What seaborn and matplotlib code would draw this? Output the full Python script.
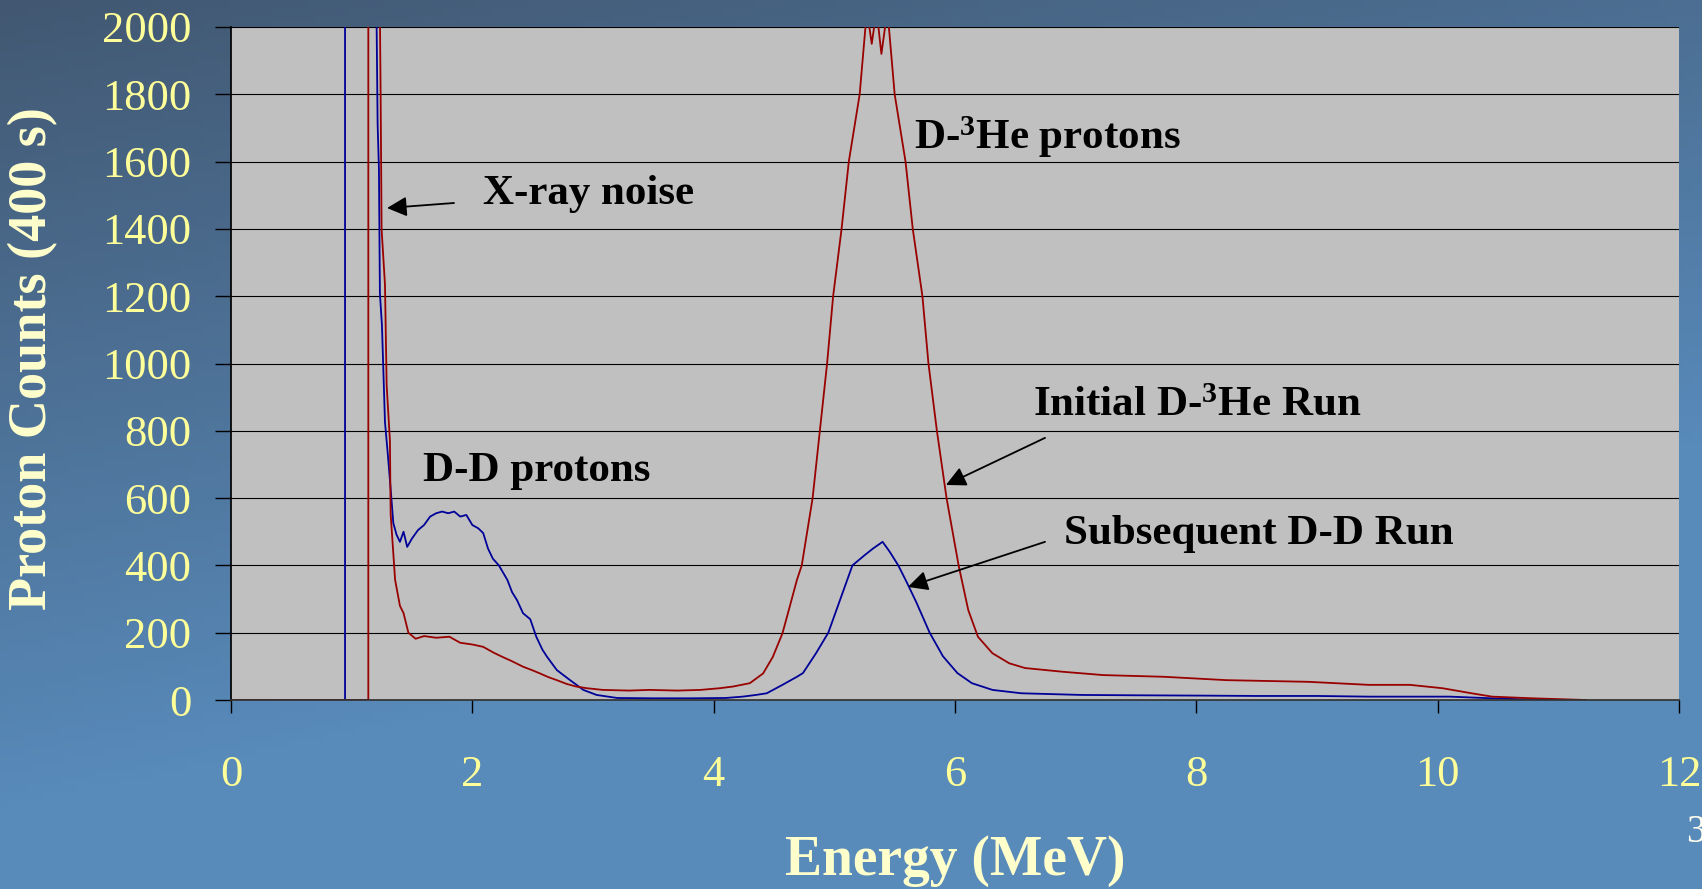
import numpy as np
import matplotlib
matplotlib.use("Agg")
import matplotlib.pyplot as plt
import seaborn as sns

# =========================
# DATA
# =========================
blue_energy = [0.00, 0.945, 0.945, 1.200, 1.207, 1.215, 1.226, 1.234, 1.251, 1.276,
               1.298, 1.326, 1.345, 1.372, 1.40, 1.43, 1.46, 1.50, 1.55, 1.60,
               1.65, 1.70, 1.75, 1.80, 1.85, 1.90, 1.95, 2.00, 2.05, 2.09,
               2.13, 2.17, 2.22, 2.29, 2.33, 2.37, 2.42, 2.48, 2.53, 2.58,
               2.62, 2.70, 2.81, 2.92, 3.03, 3.20, 3.50, 3.80, 4.10, 4.24,
               4.35, 4.44, 4.57, 4.69, 4.74, 4.85, 4.95, 5.05, 5.15, 5.25,
               5.32, 5.40, 5.46, 5.53, 5.60, 5.68, 5.79, 5.90, 6.02, 6.14,
               6.31, 6.55, 7.05, 7.50, 8.07, 8.50, 9.00, 9.43, 10.10, 10.45,
               10.70, 11.00]
blue_counts = [0, 0, 3000, 3000, 2000, 1713, 1577, 1208, 1113, 826,
               737, 614, 526, 491, 470, 500, 455, 480, 505, 520,
               545, 555, 560, 555, 560, 545, 550, 520, 510, 496,
               450, 420, 400, 357, 320, 297, 258, 240, 188, 150,
               128, 89, 59, 30, 15, 6, 5, 5, 6, 10,
               15, 20, 45, 69, 80, 140, 200, 300, 400, 430,
               450, 470, 440, 400, 350, 290, 200, 130, 80, 50,
               30, 20, 15, 14, 13, 12, 12, 10, 10, 5,
               2, 0]

red_energy = [0.00, 1.138, 1.138, 1.233, 1.235, 1.240, 1.248, 1.276, 1.290, 1.317,
              1.323, 1.36, 1.40, 1.43, 1.47, 1.53, 1.60, 1.70, 1.81, 1.90,
              2.00, 2.09, 2.18, 2.25, 2.33, 2.42, 2.50, 2.56, 2.63, 2.70,
              2.78, 2.86, 2.95, 3.08, 3.30, 3.47, 3.70, 3.89, 4.05, 4.16,
              4.30, 4.41, 4.49, 4.57, 4.63, 4.69, 4.73, 4.82, 4.88, 4.94,
              4.99, 5.06, 5.12, 5.21, 5.27, 5.31, 5.35, 5.39, 5.44, 5.50,
              5.59, 5.65, 5.73, 5.78, 5.85, 5.93, 6.03, 6.11, 6.19, 6.31,
              6.45, 6.58, 6.89, 7.23, 7.73, 8.25, 8.93, 9.43, 9.77, 10.04,
              10.28, 10.45, 10.79, 11.23]
red_counts = [0, 0, 3000, 3000, 2000, 1800, 1399, 1235, 935, 771,
              553, 357, 280, 258, 200, 182, 190, 185, 188, 170,
              165, 158, 140, 128, 115, 99, 88, 79, 68, 59,
              48, 40, 35, 30, 28, 30, 28, 30, 35, 40,
              50, 79, 128, 198, 277, 357, 400, 600, 800, 1000,
              1200, 1400, 1600, 1800, 2050, 1950, 2050, 1920, 2050, 1800,
              1600, 1400, 1200, 1000, 800, 600, 400, 267, 188, 139,
              109, 95, 84, 74, 69, 59, 54, 45, 45, 35,
              20, 10, 5, 0]

x_ticks = [0, 2, 4, 6, 8, 10, 12]
y_ticks = list(range(0, 2001, 200))

# =========================
# STYLE
# =========================
sns.set_theme(style="white")
plt.rcParams["font.family"] = ["Liberation Serif", "DejaVu Serif"]
plt.rcParams["mathtext.fontset"] = "custom"
plt.rcParams["mathtext.rm"] = "Liberation Serif:bold"
plt.rcParams["mathtext.it"] = "Liberation Serif:bold"
plt.rcParams["mathtext.bf"] = "Liberation Serif:bold"

tick_color = "#ffff99"
label_color = "#ffffcc"
red = "#990000"
blue = "#000099"

fig = plt.figure(figsize=(17.02, 8.89), dpi=100)

# slide background gradient
bg = fig.add_axes([0, 0, 1, 1], zorder=0)
gx, gy = np.meshgrid(np.linspace(0, 1, 200), np.linspace(0, 1, 120))
t = np.clip(0.45 * gx + 1.1 * gy, 0, 1)
dark = np.array([66, 88, 114]) / 255
light = np.array([88, 138, 186]) / 255
grad = dark[None, None, :] * (1 - t[..., None]) + light[None, None, :] * t[..., None]
bg.imshow(grad, aspect="auto", extent=[0, 1, 1, 0])
bg.set_axis_off()

ax = fig.add_axes([231 / 1702, 189 / 889, 1448 / 1702, 673 / 889], zorder=1)
ax.set_facecolor("#c0c0c0")

# =========================
# LINES
# =========================
sns.lineplot(x=blue_energy, y=blue_counts, ax=ax, color=blue, lw=1.3,
             estimator=None, sort=False)
sns.lineplot(x=red_energy, y=red_counts, ax=ax, color=red, lw=1.3,
             estimator=None, sort=False)

ax.set_xlim(0, 12)
ax.set_ylim(0, 2000)
ax.set_xticks(x_ticks)
ax.set_yticks(y_ticks)
ax.yaxis.grid(True, color="black", lw=0.8)
ax.set_axisbelow(True)

for side in ["top", "right"]:
    ax.spines[side].set_visible(False)
ax.spines["left"].set_color("black")
ax.spines["bottom"].set_color("#333333")

ax.tick_params(axis="y", direction="out", length=11.5, width=1, color="black",
               pad=17, labelsize=32, labelcolor=tick_color, left=True)
ax.tick_params(axis="x", direction="out", length=9.5, width=1, color="black",
               pad=30, labelsize=32, labelcolor=tick_color, bottom=True)

ax.set_ylabel("Proton Counts (400 s)", fontsize=39, fontweight="bold",
              color=label_color, va="center")
ax.yaxis.set_label_coords(-0.1367, 0.508)
ax.set_xlabel("Energy (MeV)", fontsize=40, fontweight="bold",
              color=label_color, va="center")
ax.xaxis.set_label_coords(0.5, -0.239)

# =========================
# ANNOTATIONS
# =========================
note = dict(fontsize=31, fontweight="bold", color="black", va="center", ha="left")
arrow = dict(arrowstyle="-|>,head_length=0.6,head_width=0.3", color="black",
             lw=1.3, mutation_scale=20, shrinkA=0, shrinkB=0)

ax.text(2.088, 1503, "X-ray noise", **note)
ax.text(5.66, 1672, "D-$^{3}$He protons", **note)
ax.text(1.591, 682, "D-D protons", **note)
ax.text(6.646, 874, "Initial D-$^{3}$He Run", **note)
ax.text(6.903, 492, "Subsequent D-D Run", **note)

ax.annotate("", xy=(1.293, 1462), xytext=(1.848, 1477), arrowprops=arrow)
ax.annotate("", xy=(5.925, 639), xytext=(6.746, 779), arrowprops=arrow)
ax.annotate("", xy=(5.610, 336), xytext=(6.746, 470), arrowprops=arrow)

# slide number
fig.text(1686 / 1702, 1 - 842 / 889, "3", fontsize=28, color="#fffff0",
         ha="left", va="baseline")

fig.savefig("out.png", dpi=100)
plt.close(fig)
